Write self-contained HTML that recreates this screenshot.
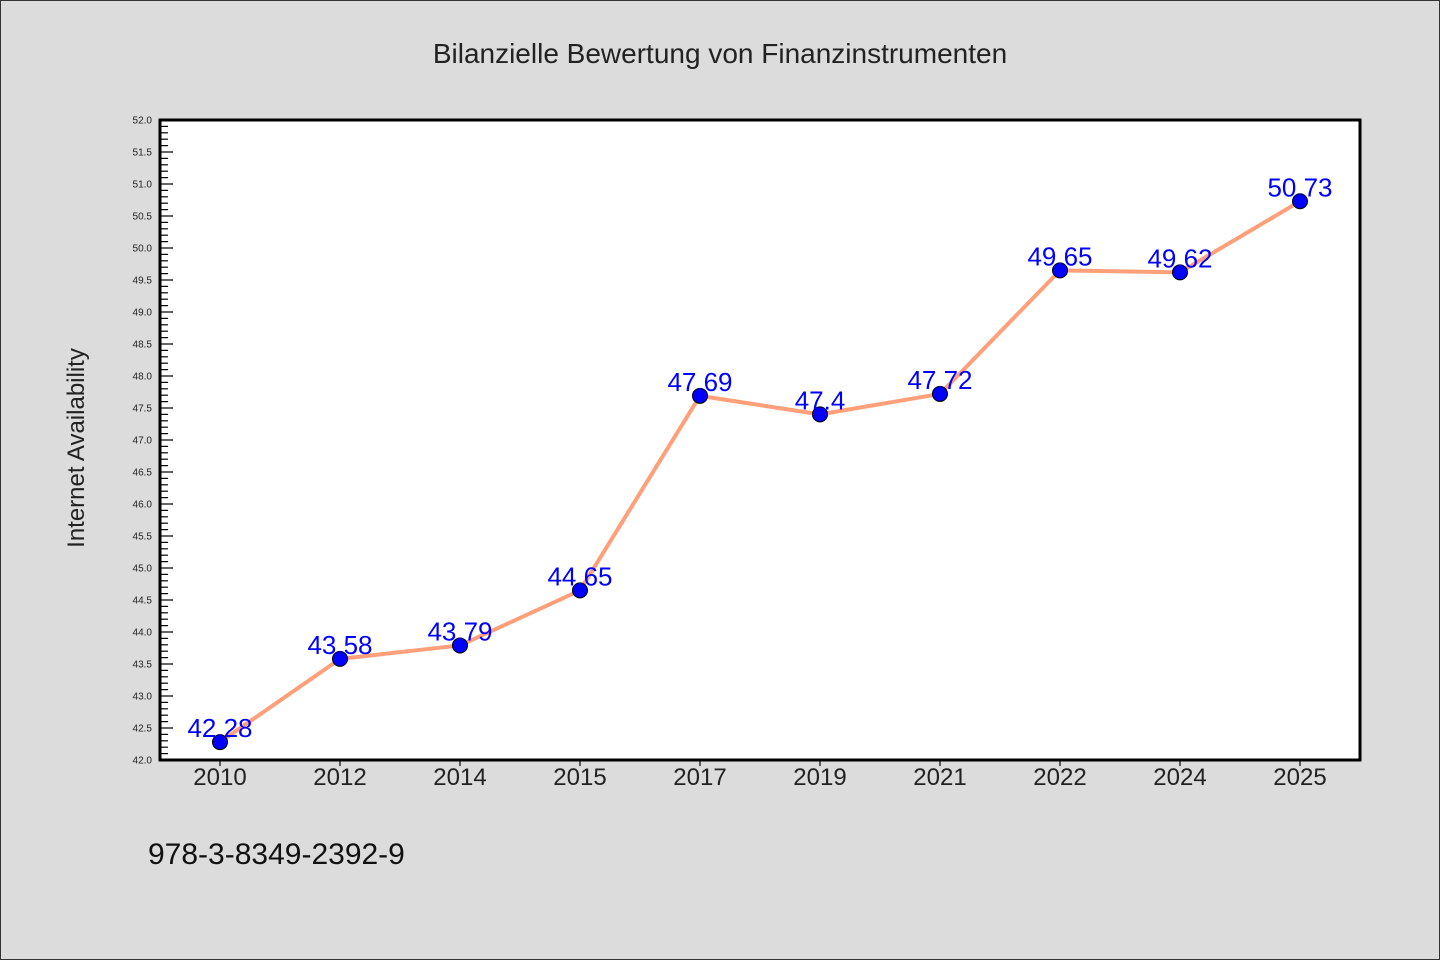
<!DOCTYPE html>
<html><head><meta charset="utf-8"><style>
body{margin:0;background:#dcdcdc}
svg{display:block}
text{font-family:"Liberation Sans","DejaVu Sans",sans-serif}
</style></head><body>
<svg id="chart" width="1440" height="960">
<rect x="0.5" y="0.5" width="1439" height="959" fill="#dcdcdc" stroke="#333"/>
<text x="720" y="63" text-anchor="middle" font-size="28" fill="#222" font-family="DejaVu Sans Mono,monospace">Bilanzielle Bewertung von Finanzinstrumenten</text>
<rect x="160" y="120" width="1200" height="640" fill="#fff"/>
<g id="yticks"></g><g id="xticks"></g><g id="series"></g>
<rect x="160" y="120" width="1200" height="640" fill="none" stroke="#000" stroke-width="3"/>
<text transform="translate(84,448) rotate(-90)" text-anchor="middle" font-size="24" fill="#222" font-family="DejaVu Sans Mono,monospace">Internet Availability</text>
<text x="148" y="864" font-size="30" fill="#111" font-family="DejaVu Sans Mono,monospace">978-3-8349-2392-9</text>
</svg>
<script>
const categories=["2010","2012","2014","2015","2017","2019","2021","2022","2024","2025"];
const values=[42.28,43.58,43.79,44.65,47.69,47.4,47.72,49.65,49.62,50.73];
const valueLabels=["42.28","43.58","43.79","44.65","47.69","47.4","47.72","49.65","49.62","50.73"];
const yMin=42,yMax=52;
const NS="http://www.w3.org/2000/svg";
const L=160,T=120,W=1200,H=640;
function xs(i){return L+W/categories.length*(i+0.5);}
function ys(v){return T+H-(v-yMin)/(yMax-yMin)*H;}
function mk(tag,at,parent){const e=document.createElementNS(NS,tag);for(const k in at)e.setAttribute(k,at[k]);parent.appendChild(e);return e;}
const yt=document.getElementById('yticks');
for(let k=0;k<=100;k++){const v=yMin+k*0.1;const y=ys(v);const major=k%5===0;
 const t=mk('line',{x1:L,x2:L+(major?13:8),y1:y,y2:y,stroke:'#000','stroke-width':1.2},yt);
 
 
 if(major){const tx=mk('text',{x:152,y:y+3.5,'text-anchor':'end','font-size':10,fill:'#222'},yt);tx.textContent=v.toFixed(1);
  
  }}
const xt=document.getElementById('xticks');
categories.forEach((c,i)=>{const x=xs(i);
 const t=mk('line',{x1:x,x2:x,y1:T+H,y2:T+H+6,stroke:'#000','stroke-width':1.2},xt);
 
 
 const tx=mk('text',{x:x,y:785,'text-anchor':'middle','font-size':24,fill:'#222'},xt);tx.textContent=c;
 
 });
const s=document.getElementById('series');
const pl=mk('polyline',{points:values.map((v,i)=>xs(i)+','+ys(v)).join(' '),fill:'none',stroke:'#ffa07a','stroke-width':4,'stroke-linejoin':'round'},s);


values.forEach((v,i)=>{
 const c=mk('circle',{cx:xs(i),cy:ys(v),r:7.5,fill:'#0000ff',stroke:'#000','stroke-width':1},s);
 
 
 const tx=mk('text',{x:xs(i),y:ys(v)-5,'text-anchor':'middle','font-size':26,fill:'#0000ff'},s);tx.textContent=valueLabels[i];
 
 });
</script>
</body></html>
